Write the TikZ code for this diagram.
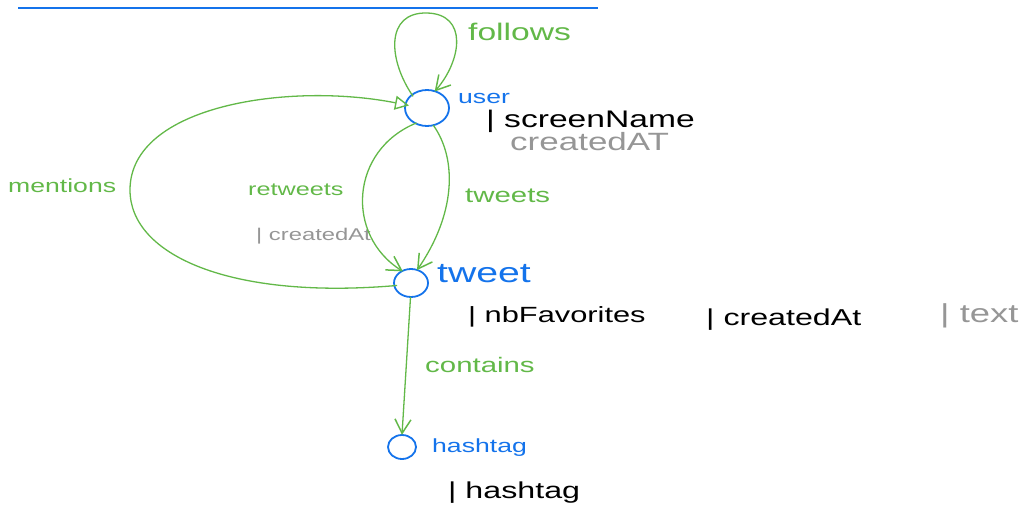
\documentclass[tikz,border=0pt]{standalone}
\usepackage{fontspec}
\usepackage{graphicx}
\usetikzlibrary{arrows.meta}
\newfontfamily\hand[FakeStretch=1.4]{Liberation Sans}
\definecolor{hgreen}{RGB}{98,184,72}
\definecolor{hblue}{RGB}{20,115,235}
\definecolor{hgray}{RGB}{150,150,150}
\tikzset{
  lbl/.style={font=\hand\fontsize{#1}{#1}\selectfont, inner sep=0pt, anchor=base west},
  rel/.style={draw=hgreen, line width=1.3pt, arrows={-Straight Barb[length=14pt,width=16pt,line width=1.5pt]}},
  relo/.style={draw=hgreen, line width=1.3pt, arrows={-Triangle[open,length=14pt,width=14pt,line width=1.4pt]}},
}
\begin{document}
\begin{tikzpicture}[x=1pt,y=-1pt]
\useasboundingbox (0,0) rectangle (1028,514);
\draw[hblue, line width=1.3pt] (18,8) -- (598,8);
% entities
\draw[hblue, line width=1.8pt] (427,108) ellipse [x radius=22, y radius=18];
\node[circle, minimum size=36pt, inner sep=0pt] (u) at (427,108) {};
\draw[hblue, line width=1.8pt] (411,283) ellipse [x radius=17, y radius=14];
\node[circle, minimum size=28pt, inner sep=0pt] (t) at (411,283) {};
\draw[hblue, line width=1.8pt] (402,447) ellipse [x radius=14, y radius=12];
\node[circle, minimum size=24pt, inner sep=0pt] (h) at (402,447) {};
% labels
\node[lbl=19, text=hblue] (ul) at (458,103) {user};
\node[lbl=28, text=hblue] (tl) at (437,282) {tweet};
\node[lbl=19, text=hblue] (hl) at (432,452) {hashtag};
\node[lbl=24] (sn) at (486,127) {| screenName};
\node[lbl=25, text=hgray] (ca) at (510,150) {createdAT};
\node[lbl=24, text=hgreen] (fl) at (468,40) {follows};
\node[lbl=19, text=hgreen] (ml) at (8,192) {mentions};
\node[lbl=18, text=hgreen] (rl) at (248,195) {retweets};
\node[lbl=17, text=hgray] (rc) at (256,240) {| createdAt};
\node[lbl=21, text=hgreen] (twl) at (465,202) {tweets};
\node[lbl=21, text=hgreen] (cl) at (425,372) {contains};
\node[lbl=22] (nf) at (468,322) {| nbFavorites};
\node[lbl=23] (tc) at (706,325) {| createdAt};
\node[lbl=26, text=hgray] (tx) at (940,322) {| text};
\node[lbl=23] (hh) at (448,498) {| hashtag};
% relations
\draw[rel] (u.140) .. controls (388,60) and (385,12) .. (427,13)
  .. controls (468,14) and (462,60) .. (u.65);
\draw[relo] (t.190) .. controls (230,300) and (130,255) .. (130,190)
  .. controls (130,105) and (290,82) .. (u.172);
\draw[rel] (u.235) .. controls (350,150) and (345,235) .. (t.125);
\draw[rel] (u.290) .. controls (458,160) and (455,215) .. (t.65);
\draw[rel] (t.268) -- (h.north);
\end{tikzpicture}
\end{document}
